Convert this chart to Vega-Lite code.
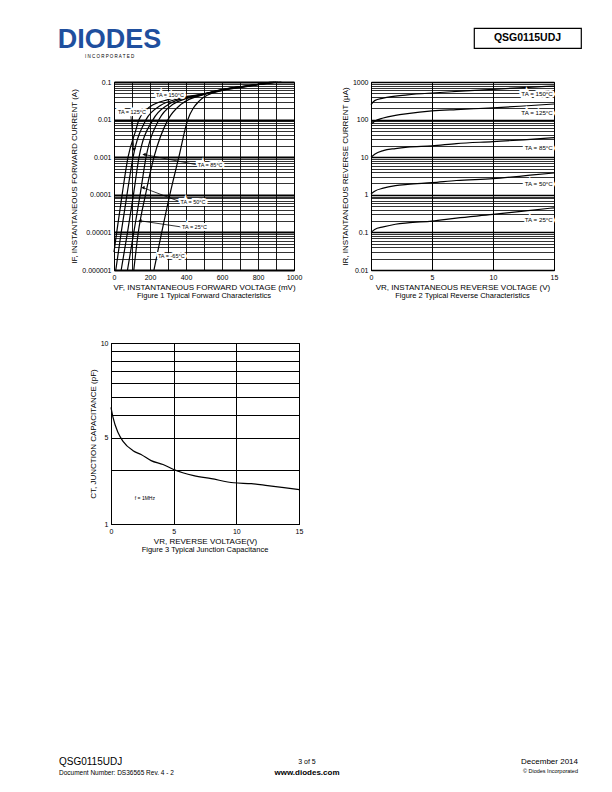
{
"$schema":"https://vega.github.io/schema/vega-lite/v6.json",
"padding":{"left":57,"top":26,"right":0,"bottom":0},
"background":"white",
"config":{
 "view":{"stroke":null},
 "font":"Liberation Sans",
 "axis":{"labelFont":"Liberation Sans","labelFontSize":7,"labelColor":"black","titleFont":"Liberation Sans","titleFontSize":8,"titleFontWeight":"normal","titleColor":"black","gridColor":"black","gridOpacity":1,"domainColor":"black","domainWidth":1,"ticks":false,"labelFlush":false,"labelOverlap":false,"labelPadding":3,"titlePadding":3,"tickCount":100},
 "title":{"font":"Liberation Sans","fontWeight":"normal","color":"black","fontSize":7.5},
 "text":{"font":"Liberation Sans","color":"black"}
},
"datasets":{
 "hdr":[{"logo":"DIODES","sub":"I N C O R P O R A T E D","doc":"QSG0115UDJ"}],
 "foot":[{"l1":"QSG0115UDJ","l2":"Document Number: DS36565 Rev. 4 - 2","c1":"3 of 5","c2":"www.diodes.com","r1":"December 2014","r2":"© Diodes Incorporated"}],
 "fig1":[
  {"t":"150","v":0,"i":0.000003},{"t":"150","v":15,"i":0.00001},{"t":"150","v":45,"i":0.0001},{"t":"150","v":78,"i":0.001},{"t":"150","v":120,"i":0.005},{"t":"150","v":139,"i":0.01},{"t":"150","v":200,"i":0.022},{"t":"150","v":300,"i":0.034},{"t":"150","v":450,"i":0.044},{"t":"150","v":600,"i":0.06},{"t":"150","v":750,"i":0.078},{"t":"150","v":870,"i":0.1},
  {"t":"125","v":10,"i":0.000001},{"t":"125","v":40,"i":0.00001},{"t":"125","v":72,"i":0.0001},{"t":"125","v":106,"i":0.001},{"t":"125","v":178,"i":0.01},{"t":"125","v":260,"i":0.024},{"t":"125","v":350,"i":0.035},{"t":"125","v":450,"i":0.043},{"t":"125","v":600,"i":0.062},{"t":"125","v":760,"i":0.08},{"t":"125","v":880,"i":0.1},
  {"t":"85","v":40,"i":0.000001},{"t":"85","v":75,"i":0.00001},{"t":"85","v":108,"i":0.0001},{"t":"85","v":139,"i":0.001},{"t":"85","v":217,"i":0.01},{"t":"85","v":300,"i":0.025},{"t":"85","v":380,"i":0.036},{"t":"85","v":450,"i":0.042},{"t":"85","v":600,"i":0.063},{"t":"85","v":780,"i":0.082},{"t":"85","v":890,"i":0.1},
  {"t":"50","v":75,"i":0.000001},{"t":"50","v":110,"i":0.00001},{"t":"50","v":145,"i":0.0001},{"t":"50","v":178,"i":0.001},{"t":"50","v":250,"i":0.01},{"t":"50","v":330,"i":0.026},{"t":"50","v":400,"i":0.036},{"t":"50","v":460,"i":0.042},{"t":"50","v":610,"i":0.064},{"t":"50","v":790,"i":0.084},{"t":"50","v":900,"i":0.1},
  {"t":"25","v":110,"i":0.000001},{"t":"25","v":135,"i":0.00001},{"t":"25","v":175,"i":0.0001},{"t":"25","v":222,"i":0.001},{"t":"25","v":300,"i":0.01},{"t":"25","v":370,"i":0.025},{"t":"25","v":420,"i":0.035},{"t":"25","v":470,"i":0.042},{"t":"25","v":620,"i":0.065},{"t":"25","v":800,"i":0.086},{"t":"25","v":910,"i":0.1},
  {"t":"-65","v":222,"i":0.000001},{"t":"-65","v":265,"i":0.00001},{"t":"-65","v":310,"i":0.0001},{"t":"-65","v":360,"i":0.001},{"t":"-65","v":410,"i":0.01},{"t":"-65","v":440,"i":0.02},{"t":"-65","v":470,"i":0.03},{"t":"-65","v":500,"i":0.04},{"t":"-65","v":640,"i":0.066},{"t":"-65","v":820,"i":0.088},{"t":"-65","v":930,"i":0.1}
 ],
 "fig1lab":[
  {"txt":"TA = 150°C","v":233,"i":0.045},
  {"txt":"TA = 125°C","v":22,"i":0.0158},
  {"txt":"TA = 85°C","v":465,"i":0.00063},
  {"txt":"TA = 50°C","v":370,"i":0.000066},
  {"txt":"TA = 25°C","v":378,"i":0.000014},
  {"txt":"TA = -65°C","v":244,"i":0.0000023}
 ],
 "fig1ptr":[
  {"lab":"125","v1":94,"i1":0.0123,"v2":111,"i2":0.0016},
  {"lab":"85","v1":167,"i1":0.00118,"v2":460,"i2":0.00063},
  {"lab":"50","v1":161,"i1":0.000155,"v2":365,"i2":0.000066},
  {"lab":"25","v1":144,"i1":0.0000204,"v2":372,"i2":0.000014}
 ],
 "fig2":[
  {"t":"150","v":0,"i":250},{"t":"150","v":0.3,"i":320},{"t":"150","v":1,"i":370},{"t":"150","v":2,"i":420},{"t":"150","v":3,"i":455},{"t":"150","v":5,"i":510},{"t":"150","v":7,"i":560},{"t":"150","v":10,"i":640},{"t":"150","v":12.5,"i":710},{"t":"150","v":15,"i":780},
  {"t":"125","v":0,"i":75},{"t":"125","v":0.3,"i":90},{"t":"125","v":1,"i":110},{"t":"125","v":2,"i":130},{"t":"125","v":3,"i":145},{"t":"125","v":5,"i":170},{"t":"125","v":7,"i":185},{"t":"125","v":10,"i":205},{"t":"125","v":12.5,"i":230},{"t":"125","v":15,"i":260},
  {"t":"85","v":0,"i":10},{"t":"85","v":0.3,"i":12},{"t":"85","v":1,"i":15},{"t":"85","v":2,"i":17},{"t":"85","v":3,"i":18.5},{"t":"85","v":5,"i":20},{"t":"85","v":7,"i":23},{"t":"85","v":10,"i":26},{"t":"85","v":12.5,"i":29},{"t":"85","v":15,"i":33},
  {"t":"50","v":0,"i":1.05},{"t":"50","v":0.3,"i":1.25},{"t":"50","v":1,"i":1.5},{"t":"50","v":2,"i":1.75},{"t":"50","v":3,"i":1.9},{"t":"50","v":5,"i":2.1},{"t":"50","v":7,"i":2.4},{"t":"50","v":10,"i":2.7},{"t":"50","v":12.5,"i":3.2},{"t":"50","v":15,"i":3.8},
  {"t":"25","v":0,"i":0.1},{"t":"25","v":0.3,"i":0.12},{"t":"25","v":1,"i":0.14},{"t":"25","v":2,"i":0.165},{"t":"25","v":3,"i":0.18},{"t":"25","v":5,"i":0.2},{"t":"25","v":7,"i":0.24},{"t":"25","v":10,"i":0.3},{"t":"25","v":12.5,"i":0.37},{"t":"25","v":15,"i":0.45}
 ],
 "fig2lab":[
  {"txt":"TA = 150°C","v":14.9,"i":480},
  {"txt":"TA = 125°C","v":14.9,"i":151},
  {"txt":"TA = 85°C","v":14.9,"i":18},
  {"txt":"TA = 50°C","v":14.9,"i":1.9},
  {"txt":"TA = 25°C","v":14.9,"i":0.21}
 ],
 "fig3":[
  {"v":0,"c":4.41},{"v":0.16,"c":3.88},{"v":0.56,"c":3.2},{"v":0.96,"c":2.86},{"v":1.76,"c":2.54},{"v":2.4,"c":2.42},{"v":3.2,"c":2.24},{"v":4.15,"c":2.13},{"v":5,"c":2.0},{"v":6.6,"c":1.85},{"v":8,"c":1.78},{"v":9.8,"c":1.69},{"v":11.2,"c":1.67},{"v":12.5,"c":1.63},{"v":13.8,"c":1.59},{"v":15,"c":1.55}
 ],
 "fig3lab":[{"txt":"f = 1MHz","v":1.9,"c":1.39}]
},
"spacing":0,
"bounds":"flush",
"vconcat":[
 {"hconcat":[
   {"width":103,"height":20,"data":{"name":"hdr"},"layer":[
     {"mark":{"type":"text","fontSize":27,"fontWeight":"bold","color":"#1f4f9e","baseline":"alphabetic","dy":10},"encoding":{"text":{"field":"logo"}}},
     {"mark":{"type":"text","fontSize":4.5,"baseline":"middle","dy":18.5},"encoding":{"text":{"field":"sub"}}}
   ]},
   {"width":107,"height":20,"data":{"name":"hdr"},"view":{"stroke":"black","strokeWidth":1.2},"mark":{"type":"text","fontSize":10.5,"fontWeight":"bold","baseline":"middle"},"encoding":{"text":{"field":"doc"}}}
 ],"spacing":313,"bounds":"flush"},
 {"width":1,"height":54,"data":{"values":[]},"mark":"point"},
 {"hconcat":[
   {"width":56,"height":1,"data":{"values":[]},"mark":"point"},
   {"width":180,"height":188,"view":{"stroke":"black","strokeWidth":1},
    "title":{"text":"Figure 1 Typical Forward Characteristics","orient":"bottom","offset":1},
    "layer":[
     {"data":{"name":"fig1"},"mark":{"type":"line","color":"black","strokeWidth":1.2,"interpolate":"monotone"},
      "encoding":{
       "x":{"field":"v","type":"quantitative","scale":{"domain":[0,1000],"nice":false,"zero":false},
        "axis":{"values":[0,100,200,300,400,500,600,700,800,900,1000],"tickCount":100,"labelExpr":"datum.value % 200 == 0 ? datum.label : ''","format":"d","labelOverlap":false,"title":"VF, INSTANTANEOUS FORWARD VOLTAGE (mV)","gridWidth":0.9}},
       "y":{"field":"i","type":"quantitative","scale":{"type":"log","domain":[0.000001,0.1],"nice":false},
        "axis":{"values":[0.000001,0.000002,0.000003,0.000004,0.000005,0.000006,0.000007,0.000008,0.000009,0.00001,0.00002,0.00003,0.00004,0.00005,0.00006,0.00007,0.00008,0.00009,0.0001,0.0002,0.0003,0.0004,0.0005,0.0006,0.0007,0.0008,0.0009,0.001,0.002,0.003,0.004,0.005,0.006,0.007,0.008,0.009,0.01,0.02,0.03,0.04,0.05,0.06,0.07,0.08,0.09,0.1],
         "tickCount":100,
         "labelExpr":"indexof([0.1,0.01,0.001,0.0001,0.00001,0.000001], datum.value) >= 0 ? format(datum.value, '~f') : ''",
         "labelOverlap":false,
         "gridWidth":{"condition":{"test":"indexof([0.1,0.01,0.001,0.0001,0.00001,0.000001], datum.value) >= 0","value":1.8},"value":0.8},
         "title":"IF, INSTANTANEOUS FORWARD CURRENT (A)"}},
       "detail":{"field":"t"}}},
     {"data":{"name":"fig1ptr"},"mark":{"type":"rule","color":"black","strokeWidth":0.8},
      "encoding":{"x":{"field":"v1","type":"quantitative"},"y":{"field":"i1","type":"quantitative"},"x2":{"field":"v2"},"y2":{"field":"i2"}}},
     {"data":{"name":"fig1ptr"},"transform":[{"filter":"datum.lab != '125'"}],"mark":{"type":"point","shape":"triangle-left","filled":true,"color":"black","size":14,"opacity":1},
      "encoding":{"x":{"field":"v1","type":"quantitative"},"y":{"field":"i1","type":"quantitative"}}},
     {"data":{"name":"fig1ptr"},"transform":[{"filter":"datum.lab == '125'"}],"mark":{"type":"point","shape":"triangle-down","filled":true,"color":"black","size":14,"opacity":1},
      "encoding":{"x":{"field":"v2","type":"quantitative"},"y":{"field":"i2","type":"quantitative"}}},
     {"data":{"name":"fig1lab"},"mark":{"type":"text","fontSize":5.5,"align":"left","baseline":"middle","stroke":"white","strokeWidth":4,"color":"white"},
      "encoding":{"x":{"field":"v","type":"quantitative"},"y":{"field":"i","type":"quantitative"},"text":{"field":"txt"}}},
     {"data":{"name":"fig1lab"},"mark":{"type":"text","fontSize":5.5,"align":"left","baseline":"middle","color":"black"},
      "encoding":{"x":{"field":"v","type":"quantitative"},"y":{"field":"i","type":"quantitative"},"text":{"field":"txt"}}}
    ]},
   {"width":77,"height":1,"data":{"values":[]},"mark":"point"},
   {"width":183,"height":188,"view":{"stroke":"black","strokeWidth":1},
    "title":{"text":"Figure 2 Typical Reverse Characteristics","orient":"bottom","offset":1},
    "layer":[
     {"data":{"name":"fig2"},"mark":{"type":"line","color":"black","strokeWidth":1.2,"interpolate":"monotone"},
      "encoding":{
       "x":{"field":"v","type":"quantitative","scale":{"domain":[0,15],"nice":false,"zero":false},
        "axis":{"values":[0,5,10,15],"tickCount":100,"format":"d","labelOverlap":false,"title":"VR, INSTANTANEOUS REVERSE VOLTAGE (V)","gridWidth":1}},
       "y":{"field":"i","type":"quantitative","scale":{"type":"log","domain":[0.01,1000],"nice":false},
        "axis":{"values":[0.01,0.02,0.03,0.04,0.05,0.06,0.07,0.08,0.09,0.1,0.2,0.3,0.4,0.5,0.6,0.7,0.8,0.9,1,2,3,4,5,6,7,8,9,10,20,30,40,50,60,70,80,90,100,200,300,400,500,600,700,800,900,1000],
         "tickCount":100,
         "labelExpr":"indexof([0.01,0.1,1,10,100,1000], datum.value) >= 0 ? format(datum.value, '~f') : ''",
         "labelOverlap":false,
         "gridWidth":{"condition":{"test":"indexof([0.01,0.1,1,10,100,1000], datum.value) >= 0","value":1.5},"value":0.8},
         "title":"IR, INSTANTANEOUS REVERSE CURRENT (µA)"}},
       "detail":{"field":"t"}}},
     {"data":{"name":"fig2lab"},"mark":{"type":"text","fontSize":6.2,"align":"right","baseline":"middle","stroke":"white","strokeWidth":4,"color":"white"},
      "encoding":{"x":{"field":"v","type":"quantitative"},"y":{"field":"i","type":"quantitative"},"text":{"field":"txt"}}},
     {"data":{"name":"fig2lab"},"mark":{"type":"text","fontSize":6.2,"align":"right","baseline":"middle","color":"black"},
      "encoding":{"x":{"field":"v","type":"quantitative"},"y":{"field":"i","type":"quantitative"},"text":{"field":"txt"}}}
    ]}
 ],"spacing":0,"bounds":"flush"},
 {"width":1,"height":261,"data":{"values":[]},"mark":"point"},
 {"hconcat":[
   {"width":53,"height":1,"data":{"values":[]},"mark":"point"},
   {"width":188,"height":181,"view":{"stroke":"black","strokeWidth":1},
    "title":{"text":"Figure 3 Typical Junction Capacitance","orient":"bottom","offset":1},
    "layer":[
     {"data":{"name":"fig3"},"mark":{"type":"line","color":"black","strokeWidth":1.2,"interpolate":"monotone"},
      "encoding":{
       "x":{"field":"v","type":"quantitative","scale":{"domain":[0,15],"nice":false,"zero":false},
        "axis":{"values":[0,5,10,15],"tickCount":100,"format":"d","labelOverlap":false,"title":"VR, REVERSE VOLTAGE(V)","gridWidth":1}},
       "y":{"field":"c","type":"quantitative","scale":{"type":"log","domain":[1,10],"nice":false},
        "axis":{"values":[1,2,3,4,5,6,7,8,9,10],"tickCount":100,"labelExpr":"datum.value == 10 ? '10' : datum.value == 3 ? '5' : datum.value == 1 ? '1' : ''","labelOverlap":false,"gridWidth":1,
         "title":"CT, JUNCTION CAPACITANCE (pF)"}}}},
     {"data":{"name":"fig3lab"},"mark":{"type":"text","fontSize":5,"align":"left","baseline":"middle"},
      "encoding":{"x":{"field":"v","type":"quantitative"},"y":{"field":"c","type":"quantitative"},"text":{"field":"txt"}}}
    ]}
 ],"spacing":0,"bounds":"flush"},
 {"width":1,"height":418,"data":{"values":[]},"mark":"point"},
 {"hconcat":[
   {"width":2,"height":2,"data":{"name":"foot"},"layer":[
     {"mark":{"type":"text","fontSize":10,"align":"left","baseline":"middle"},"encoding":{"text":{"field":"l1"}}},
     {"mark":{"type":"text","fontSize":6.5,"align":"left","baseline":"middle","dy":11},"encoding":{"text":{"field":"l2"}}}
   ]},
   {"width":494,"height":2,"data":{"name":"foot"},"layer":[
     {"mark":{"type":"text","fontSize":7,"align":"center","baseline":"middle"},"encoding":{"text":{"field":"c1"}}},
     {"mark":{"type":"text","fontSize":8,"fontWeight":"bold","align":"center","baseline":"middle","dy":11},"encoding":{"text":{"field":"c2"}}}
   ]},
   {"width":48,"height":2,"data":{"name":"foot"},"layer":[
     {"mark":{"type":"text","fontSize":8,"align":"right","baseline":"middle"},"encoding":{"text":{"field":"r1"}}},
     {"mark":{"type":"text","fontSize":5.5,"align":"right","baseline":"middle","dy":9},"encoding":{"text":{"field":"r2"}}}
   ]}
 ],"spacing":0,"bounds":"flush"}
]
}
